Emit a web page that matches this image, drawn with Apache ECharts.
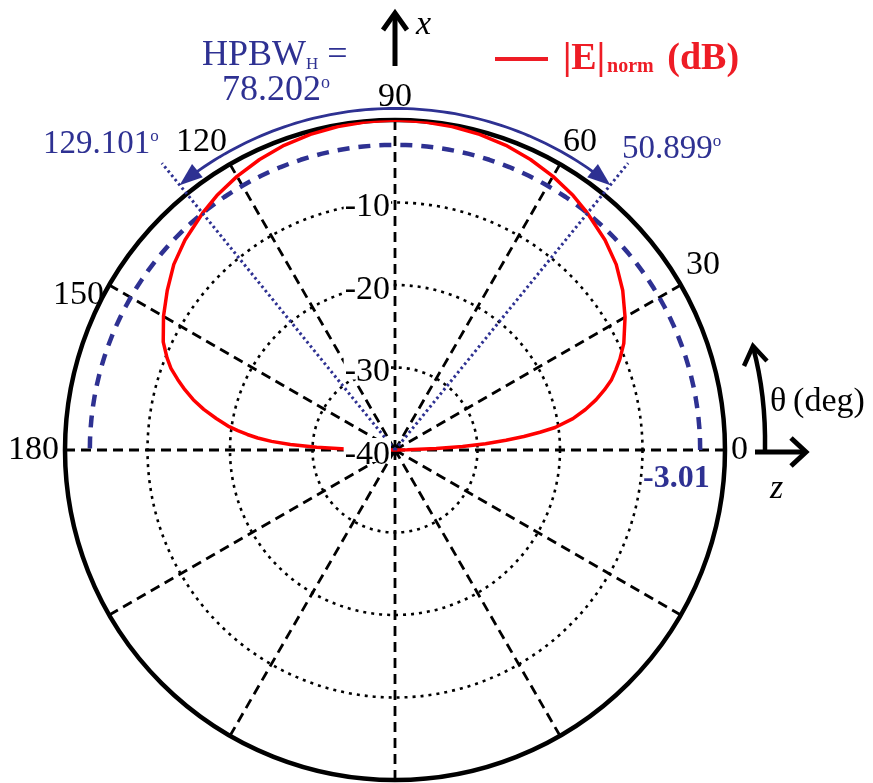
<!DOCTYPE html>
<html>
<head>
<meta charset="utf-8">
<script src="https://cdn.jsdelivr.net/npm/echarts@6/dist/echarts.min.js"></script>
<style>
  html, body { margin: 0; padding: 0; background: #fff; }
  #chart { width: 873px; height: 783px; }
</style>
</head>
<body>
<div id="chart"></div>
<script>
// ---- data ----
const thetaDeg = [0,1,2,3,4,5,6,7,8,10,12,14,16,18,20,22,25,30,35,40,45,50.899,55,60,65,70,75,80,85,90,
                  95,100,105,110,115,120,125,129.101,135,140,145,150,155,158,160,162,164,166,168,170,172,173,174,175,176,177,178,179,180];
const eNormDB = [-40,-38.5,-35,-31.8,-29,-26.5,-24.3,-22.3,-20.4,-18.1,-16.4,-14.9,-13.6,-12.4,-11.5,-10.6,-9.4,-7.8,-6.3,-5.0,-4.0,-3.01,-2.35,-1.7,-1.15,-0.7,-0.4,-0.18,-0.05,0,
                 -0.05,-0.18,-0.4,-0.7,-1.15,-1.7,-2.35,-3.01,-4.0,-5.0,-6.3,-7.6,-9.0,-10.2,-11.1,-12.3,-13.5,-14.8,-16.3,-18.0,-19.7,-20.8,-22.0,-23.3,-25.0,-27.3,-30.5,-34.5,-40];
const hpbwLevel = -3.01;
const hpbwAngles = [50.899, 129.101];
const angleTicks = [0, 30, 60, 90, 120, 150, 180];
const radiusTicks = [-40, -30, -20, -10];

const BLUE = '#2e3192';
const RED = '#ff0000';
const SERIF = 'Liberation Serif';
const CX = 395, CY = 450, R = 330;
const ANN = 1.2; // annotation polar extends 20% beyond the outer ring

// sample angles for constant-level reference arcs (geometry, not data)
const refArcAngles = [];
for (let a = 0; a <= 180; a += 2) refArcAngles.push(a);
const arrowArcAngles = [];
for (let a = hpbwAngles[0] + 3; a <= hpbwAngles[1] - 3 + 1e-9; a += 1) arrowArcAngles.push(a);
const arcR = 1.035;

const chart = echarts.init(document.getElementById('chart'), null, { renderer: 'canvas' });

const hpbwWidth = (hpbwAngles[1] - hpbwAngles[0]).toFixed(3);

const option = {
  backgroundColor: '#fff',
  animation: false,
  polar: [
    { center: [CX, CY], radius: R },
    { center: [CX, CY], radius: R * ANN },
    { center: [CX, CY], radius: R }
  ],
  angleAxis: [
    {
      polarIndex: 0, type: 'value', min: 0, max: 360, interval: 30,
      startAngle: 0, clockwise: false,
      axisLine: { lineStyle: { color: '#000', width: 4.5 } },
      axisTick: { show: false },
      axisLabel: {
        formatter: v => (angleTicks.indexOf(v) >= 0 ? (v === 150 ? '{low|150}' : String(v)) : ''),
        fontFamily: SERIF, fontSize: 34, color: '#000', margin: 6,
        rich: { low: { fontFamily: SERIF, fontSize: 34, color: '#000', padding: [0, 0, -30, 0] } }
      },
      splitLine: { lineStyle: { color: '#000', width: 2.8, type: [10, 6] } }
    },
    { polarIndex: 1, type: 'value', min: 0, max: 360, startAngle: 0, clockwise: false, show: false },
    { polarIndex: 2, type: 'value', min: 0, max: 360, startAngle: 90, clockwise: false, show: false }
  ],
  radiusAxis: [
    {
      polarIndex: 0, type: 'value', min: -40, max: 0, interval: 10,
      axisLine: { show: false }, axisTick: { show: false }, axisLabel: { show: false },
      splitLine: { lineStyle: { color: '#000', width: 2.6, type: [3, 5] } }
    },
    { polarIndex: 1, type: 'value', min: 0, max: ANN, show: false },
    {
      polarIndex: 2, type: 'value', min: -40, max: 0, interval: 10, z: 10,
      axisLine: { show: false }, axisTick: { show: false }, splitLine: { show: false },
      axisLabel: {
        formatter: v => (radiusTicks.indexOf(v) >= 0 ? '{r|' + v + '}' : ''),
        margin: 4,
        rich: { r: { fontFamily: SERIF, fontSize: 34, color: '#000', backgroundColor: '#fff', padding: [0, 1, -10, 1] } }
      }
    }
  ],
  legend: {
    data: ['|E|norm (dB)'],
    left: 495, top: 40, padding: 0,
    icon: 'rect', itemWidth: 53, itemHeight: 4,
    itemStyle: { color: '#ee1c25' },
    formatter: () => '{b|\u007cE\u007c}{s|norm}{b| (dB)}',
    textStyle: {
      color: '#ee1c25', padding: [0, 0, 0, 10],
      rich: {
        b: { fontFamily: SERIF, fontWeight: 'bold', fontSize: 38, color: '#ee1c25' },
        s: { fontFamily: SERIF, fontWeight: 'bold', fontSize: 20, color: '#ee1c25', padding: [16, 4, 0, 2] }
      }
    }
  },
  series: [
    {
      name: '|E|norm (dB)', type: 'line', coordinateSystem: 'polar', polarIndex: 0,
      data: thetaDeg.map((t, i) => [eNormDB[i], t]),
      symbol: 'none', lineStyle: { color: RED, width: 3.5 }, itemStyle: { color: RED }, z: 3
    },
    {
      name: 'hpbwRing', type: 'line', coordinateSystem: 'polar', polarIndex: 0,
      data: refArcAngles.map(t => [hpbwLevel, t]),
      symbol: 'none', silent: true, lineStyle: { color: BLUE, width: 4.5, type: [12, 9] }, z: 2
    },
    ...hpbwAngles.map((a, k) => ({
      name: 'hpbwDir' + k, type: 'line', coordinateSystem: 'polar', polarIndex: 1, clip: false,
      data: [[0, a], [1.12, a]], symbol: 'none', silent: true,
      lineStyle: { color: BLUE, width: 3, type: [2.5, 3] }, z: 4
    })),
    {
      name: 'hpbwArc', type: 'line', coordinateSystem: 'polar', polarIndex: 1, clip: false,
      data: arrowArcAngles.map(t => [arcR, t]), symbol: 'none', silent: true,
      lineStyle: { color: BLUE, width: 2.8 }, z: 4
    },
    {
      name: 'hpbwArrows', type: 'scatter', coordinateSystem: 'polar', polarIndex: 1, clip: false,
      data: [
        { value: [arcR, hpbwAngles[0] + 1.9], symbolRotate: hpbwAngles[0] - 180 },
        { value: [arcR, hpbwAngles[1] - 1.9], symbolRotate: hpbwAngles[1] }
      ],
      symbol: 'triangle', symbolSize: [17, 23],
      itemStyle: { color: BLUE, opacity: 1 }, silent: true, z: 5
    }
  ],
  graphic: [
    // x axis arrow
    { type: 'polyline', shape: { points: [[CX, 66], [CX, 13]] }, style: { stroke: '#000', lineWidth: 5, fill: null } },
    { type: 'polyline', shape: { points: [[CX - 12, 30], [CX, 13], [CX + 12, 30]] }, style: { stroke: '#000', lineWidth: 5, fill: null } },
    { type: 'text', left: 416, top: 8, style: { text: 'x', font: 'italic 34px "Liberation Serif"', fill: '#000' } },
    // z axis arrow
    { type: 'polyline', shape: { points: [[755, 452], [805, 452]] }, style: { stroke: '#000', lineWidth: 5, fill: null } },
    { type: 'polyline', shape: { points: [[791, 438], [806, 452], [791, 466]] }, style: { stroke: '#000', lineWidth: 5, fill: null } },
    { type: 'text', left: 770, top: 472, style: { text: 'z', font: 'italic 34px "Liberation Serif"', fill: '#000' } },
    // theta arrow
    { type: 'bezierCurve', shape: { x1: 765, y1: 450, cpx1: 766, cpy1: 395, x2: 753, y2: 347 }, style: { stroke: '#000', lineWidth: 4.5, fill: null } },
    { type: 'polyline', shape: { points: [[744, 366], [753, 346], [767, 361]] }, style: { stroke: '#000', lineWidth: 4.5, fill: null } },
    { type: 'text', left: 770, top: 385, style: { text: '\u03b8\u2009(deg)', font: '34px "Liberation Serif"', fill: '#000' } },
    // HPBW annotation
    { type: 'text', left: 202, top: 38, style: { text: '{a|HPBW}{s|H}{a| =}', rich: {
        a: { font: '36px "Liberation Serif"', fill: BLUE },
        s: { font: '17px "Liberation Serif"', fill: BLUE, padding: [18, 0, 0, 0] } } } },
    { type: 'text', left: 222, top: 73, style: { text: '{a|' + hpbwWidth + '}{d|o}', rich: {
        a: { font: '36px "Liberation Serif"', fill: BLUE },
        d: { font: '18px "Liberation Serif"', fill: BLUE, padding: [0, 0, 16, 0] } } } },
    { type: 'text', left: 43, top: 128, style: { text: '{a|' + hpbwAngles[1].toFixed(3) + '}{d|o}', rich: {
        a: { font: '33px "Liberation Serif"', fill: BLUE },
        d: { font: '17px "Liberation Serif"', fill: BLUE, padding: [0, 0, 16, 0] } } } },
    { type: 'text', left: 622, top: 133, style: { text: '{a|' + hpbwAngles[0].toFixed(3) + '}{d|o}', rich: {
        a: { font: '33px "Liberation Serif"', fill: BLUE },
        d: { font: '17px "Liberation Serif"', fill: BLUE, padding: [0, 0, 16, 0] } } } },
    { type: 'text', left: 643, top: 463, z: 20, style: { text: hpbwLevel.toFixed(2), font: 'bold 32px "Liberation Serif"', fill: BLUE } }
  ]
};
chart.setOption(option);
</script>
</body>
</html>
